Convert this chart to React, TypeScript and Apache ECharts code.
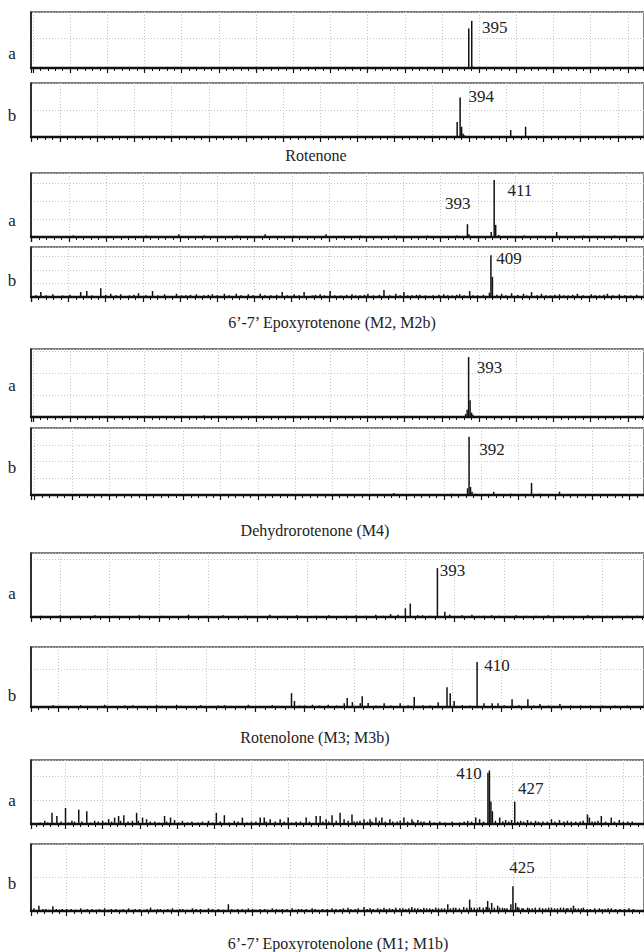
import React, { useEffect, useRef } from "react";
import * as echarts from "echarts";

type Peak = [number, number];

// ---------- DATA ----------
const compoundTitles = [
  "Rotenone",
  "6’-7’ Epoxyrotenone (M2, M2b)",
  "Dehydrorotenone (M4)",
  "Rotenolone (M3; M3b)",
  "6’-7’ Epoxyrotenolone (M1; M1b)",
];
const panelLetters = ["a", "b", "a", "b", "a", "b", "a", "b", "a", "b"];

// [m/z, relative intensity]
const rotenoneA: Peak[] = [
  [132, 1], [151, 1.5], [168, 1], [190, 1.5], [214, 1], [236, 1], [262, 1], [288, 1],
  [331, 1], [362, 1], [393, 67], [395, 80], [396, 2], [421, 1], [447, 1], [472, 1],
];
const rotenoneB: Peak[] = [
  [158, 1], [205, 1], [262, 1], [318, 1], [371, 1], [392, 28], [394, 73], [395, 19],
  [396, 6], [397, 3], [399, 2], [404, 1], [428, 13], [438, 19], [462, 1], [485, 1],
];
const epoxyA: Peak[] = [
  [128, 2], [140, 1], [151, 1.5], [163, 1], [177, 2], [188, 1], [199, 4], [207, 1.5],
  [216, 2], [227, 1], [238, 2], [247, 1], [257, 4], [266, 1.5], [276, 2], [287, 1],
  [298, 4], [309, 1.5], [321, 2], [333, 1], [344, 2], [355, 1], [366, 2], [376, 1.5],
  [386, 2], [393, 18], [394, 4], [401, 1.5], [409, 7], [411, 80], [412, 17], [414, 3],
  [422, 1.5], [431, 2], [442, 1.5], [453, 7], [462, 1.5], [471, 2], [481, 1.5], [492, 2],
  [502, 1.5],
];
const epoxyB: Peak[] = [
  [103, 3], [106.4, 9], [110, 3], [114.5, 5], [118, 2], [121, 3], [126, 4], [129, 2],
  [133.2, 9], [137.3, 11], [141, 3], [146.7, 16], [150, 4], [153.4, 6], [157, 3],
  [160.1, 5], [163, 2], [166, 3], [169, 4], [172.1, 7], [177, 3], [181.5, 11], [185, 3],
  [189.6, 5], [193, 2], [197.6, 6], [201, 3], [204, 3], [207, 4], [211, 5], [213, 2],
  [216, 3], [219, 4], [221.7, 5], [225, 3], [229.8, 6], [233, 3], [237.8, 6], [241, 3],
  [245.9, 5], [249, 3], [253.9, 6], [257, 3], [261, 3], [265, 4], [268.7, 9], [272, 3],
  [276.7, 5], [280, 3], [283.4, 9], [286, 2], [289, 3], [291, 4], [294.2, 5], [297, 3],
  [300.9, 11], [304, 3], [308, 3], [312, 4], [315.6, 5], [318, 3], [321, 3], [324, 4],
  [326.3, 6], [330, 3], [334, 4], [337.1, 13], [341, 3], [345.1, 6], [348, 3],
  [350.5, 9], [353, 3], [356, 3], [359, 4], [361.2, 4], [365, 3], [370, 3], [374, 4],
  [377.3, 5], [380, 3], [383, 3], [386, 4], [388, 5], [391, 3], [394.7, 11], [397, 3],
  [400, 3], [404, 4], [408, 8], [409, 77], [410, 37], [413, 4], [416.2, 6], [419, 3],
  [422.9, 7], [427, 4], [430.9, 6], [433, 3], [436.3, 9], [440, 3], [443, 6], [446, 3],
  [449, 3], [452, 4], [455.1, 5], [458, 3], [461, 3], [464, 4], [467.1, 6], [471, 3],
  [476.5, 5], [479, 3], [482, 3], [485, 4], [487.3, 6], [491, 3], [495.3, 5], [499, 3],
  [503, 3], [507, 4],
];
const dehydroA: Peak[] = [
  [135, 1.5], [162, 1.5], [190, 1.5], [215, 2], [248, 1.5], [272, 1.5], [300, 1.5],
  [325, 1.5], [352, 1.5], [377, 1.5], [391, 4], [392, 10], [393, 82], [394, 23],
  [395, 6], [396, 3], [412, 1.5], [440, 1.5], [468, 1.5], [495, 1.5],
];
const dehydroB: Peak[] = [
  [128, 1.5], [156, 1.5], [184, 1.5], [212, 1.5], [240, 1.5], [270, 1.5], [301, 1.5],
  [327, 1.5], [341.5, 3], [358, 1.5], [380, 2], [391, 10], [392, 87], [393, 12],
  [394, 5], [396, 2], [408.6, 5], [420, 2], [434, 18], [440, 2], [452.8, 5], [470, 1.5],
  [492, 1.5],
];
const rotenoloneA: Peak[] = [
  [232, 2], [236, 1.5], [240, 3], [243, 1.5], [247, 2], [250, 1.5], [254, 3], [258, 1.5],
  [262, 2], [266, 1.5], [272, 3], [276, 1.5], [281, 2], [286, 1.5], [292, 4], [295, 1.5],
  [299, 2], [302, 1.5], [306, 3], [310, 1.5], [315, 2], [319, 1.5], [325, 4], [328, 1.5],
  [331, 2], [336, 3], [340, 1.5], [344, 2], [349, 3], [352, 1.5], [356, 2], [360, 3],
  [364, 2], [368, 4], [371, 2], [374, 5], [377, 4], [380, 15], [382, 23], [385, 3],
  [387, 3], [390, 2], [393, 84], [396, 9], [398, 4], [400, 2], [403, 3], [407, 4],
  [410, 2], [412, 2], [415, 3], [418, 2], [421, 2], [425, 3], [429, 2], [433, 2],
  [438, 3], [442, 2], [447, 2], [450, 1.5], [454, 3], [458, 2], [462, 2], [466, 2],
  [470, 2], [474, 2],
];
const rotenoloneB: Peak[] = [
  [233, 3], [237.9, 5], [241, 3], [244, 3], [249.2, 5], [252, 3], [254, 3], [258.9, 6],
  [261, 3], [264, 3], [267, 4], [270.3, 5], [273, 3], [275, 3], [280, 5], [282, 3],
  [284, 3], [288.1, 6], [290, 3], [293, 3], [297.8, 5], [300, 3], [302, 3], [305, 4],
  [307.5, 5], [310, 3], [312, 3], [317.2, 6], [320, 3], [322, 3], [326.9, 5], [329, 3],
  [331, 3], [334.7, 37], [335.9, 16], [338, 4], [340, 4], [343.2, 6], [346, 4],
  [349.6, 6], [353, 4], [356.1, 10], [357.3, 24], [359.4, 13], [362.6, 10], [363.4, 29],
  [365.8, 11], [369, 4], [372.3, 10], [375, 4], [378.8, 10], [382, 5], [384.5, 27],
  [388, 5], [391, 4], [394.2, 13], [397.8, 53], [399.1, 37], [400.7, 16], [404, 5],
  [407, 4], [410, 120], [412.8, 10], [416.1, 10], [418.5, 10], [421, 5], [424.2, 21],
  [427, 5], [430.6, 21], [433, 4], [435.5, 8], [439, 4], [441, 3], [443.6, 8], [446, 3],
  [448, 4], [452, 4], [454, 3], [456, 4], [459, 3], [461, 4], [466, 4], [468, 3],
  [471, 4], [474, 3],
];
const epoxyrotenoloneA: Peak[] = [
  [108, 2], [111.1, 4], [113, 2], [115.9, 14], [119.2, 10], [122, 3], [125, 20],
  [127, 2], [129.3, 4], [131, 3], [133.9, 18], [136, 3], [139.3, 16], [142, 2],
  [144.6, 4], [147, 3], [150, 4], [152, 2], [154, 6], [156, 3], [158, 8], [160.7, 10],
  [162, 4], [164.2, 11], [167, 3], [170, 4], [172.8, 14], [174, 4], [176.8, 8],
  [179.5, 6], [182, 3], [185, 3], [188, 2], [191.6, 10], [193, 3], [195.6, 8],
  [198.3, 5], [201, 2], [203.6, 4], [207, 2], [210, 3], [214, 2], [217, 3], [221.1, 4],
  [224, 2], [226.4, 14], [229, 3], [231.8, 11], [235, 2], [238.5, 4], [241, 3],
  [243.9, 8], [247, 2], [250, 3], [253, 3], [255.9, 8], [258.6, 8], [260, 3],
  [262.6, 6], [266, 3], [269.3, 6], [272, 3], [274.7, 8], [277, 2], [280, 3], [283, 3],
  [286.8, 8], [289, 3], [293.5, 10], [296.2, 10], [298, 3], [300.2, 6], [302, 3],
  [304.2, 11], [307, 4], [309.6, 14], [312.3, 6], [315, 4], [317.6, 12], [319, 3],
  [321, 3], [323, 4], [325.7, 6], [328, 3], [329.7, 6], [331, 3], [333.7, 8], [336, 4],
  [337.7, 8], [340, 3], [343.1, 6], [345, 3], [348, 3], [350, 4], [352.5, 8], [355, 3],
  [357.9, 6], [359, 3], [361.9, 5], [364, 3], [366, 3], [369.9, 4], [373, 2],
  [376.6, 3], [380, 2], [385, 3], [390, 2], [393, 3], [395.4, 4], [398, 3], [400.8, 8],
  [403.4, 6], [406, 3], [409, 64], [410, 67], [411, 28], [412, 16], [414, 4],
  [416.9, 8], [419, 3], [420.9, 5], [423, 3], [424.9, 5], [427, 28], [429, 3], [431, 4],
  [433, 3], [435.6, 5], [438, 3], [441, 4], [443, 3], [446, 3], [449, 3], [451.7, 6],
  [454, 3], [457.1, 5], [460, 3], [462.4, 4], [465, 3], [468, 3], [471, 3], [473, 4],
  [475.9, 12], [477.2, 8], [479, 3], [481, 3], [483, 4], [485.2, 10], [488, 3],
  [491.9, 8], [494, 3], [497.3, 5], [500, 3], [503, 3], [506, 3],
];
const epoxyrotenoloneB: Peak[] = [
  [103, 4], [106.3, 8], [109, 3], [111, 3], [113, 2], [115.7, 7], [118, 3], [120, 2],
  [122, 3], [125, 3], [128, 3], [131, 2], [134.4, 4], [137, 2], [139, 3], [142, 3],
  [145, 2], [147, 3], [150.5, 4], [153, 2], [155, 3], [158, 3], [161, 2], [163, 3],
  [166.6, 4], [169, 2], [171, 3], [174, 3], [177, 2], [179, 3], [181.4, 5], [184, 2],
  [186, 3], [188, 3], [191, 2], [193, 3], [196.1, 4], [199, 2], [201, 3], [203, 3],
  [206, 2], [209.5, 4], [212, 3], [215, 3], [218, 2], [220.3, 4], [223, 3], [227, 3],
  [230, 2], [233.7, 10], [236, 3], [238, 2], [240, 3], [243, 3], [245, 2], [247.1, 4],
  [250, 3], [252, 2], [255, 3], [258, 3], [260, 2], [263.2, 4], [266, 3], [268, 2],
  [270, 3], [273, 3], [276.6, 4], [279, 2], [281, 3], [283, 3], [286, 3], [290, 4],
  [292, 3], [294, 2], [297, 3], [300, 3], [303.4, 4], [306, 3], [309, 3], [311, 4],
  [314.1, 5], [316, 3], [319, 3], [321, 4], [324.9, 6], [327, 3], [329, 4], [331, 3],
  [334, 4], [336, 3], [338.3, 5], [340, 3], [342, 4], [344, 3], [346.3, 5], [349, 4],
  [351, 4], [353, 3], [355, 4], [357, 6], [359, 4], [361, 4], [363, 3], [365.1, 5],
  [367, 4], [369, 4], [371, 3], [373.1, 5], [375, 4], [377, 4], [379, 4], [381.2, 10],
  [383, 4], [385, 5], [386.6, 5], [389, 4], [391.9, 6], [394, 5], [395.9, 17], [397, 5],
  [399, 5], [401, 4], [402.6, 6], [405, 5], [407, 6], [408, 15], [409, 5], [410.7, 12],
  [412.5, 5], [414.7, 8], [416, 5], [418, 5], [419.5, 4], [421, 4], [423.6, 10],
  [425, 37], [426.8, 12], [428, 6], [429, 5], [431, 4], [432, 4], [434.8, 5], [436, 4],
  [438, 4], [440, 5], [442.9, 5], [445, 4], [447, 4], [449, 5], [450.9, 5], [453, 4],
  [455, 4], [457, 5], [459, 5], [461, 4], [462, 4], [464, 5], [465.7, 8], [467, 4],
  [469, 4], [471, 4], [472.4, 5], [475, 3], [477, 3], [480, 4], [483.1, 4], [485, 3],
  [487, 3], [489, 4], [491.1, 4], [494, 3], [497, 3], [500, 3], [503, 4], [506, 3],
];
const panelSpectra: Peak[][] = [
  rotenoneA, rotenoneB, epoxyA, epoxyB, dehydroA, dehydroB,
  rotenoloneA, rotenoloneB, epoxyrotenoloneA, epoxyrotenoloneB,
];

// labelled peaks (panel index, m/z)
const labelPanels = [0, 1, 2, 2, 3, 4, 5, 6, 7, 8, 8, 9];
const labelMz = [395, 394, 411, 393, 409, 393, 392, 393, 410, 410, 427, 425];

// axis scales per panel
const xMinMz = [98.7, 105.5, 99.6, 99.8, 98.8, 97.5, 228.1, 229, 101.8, 101];
const xTickStep = [25, 25, 25, 25, 25, 25, 20, 20, 25, 25];
const yMaxVal = [95, 100, 90, 92, 93, 100, 110, 160, 80, 100];
const yTickStep = [50, 50, 25, 25, 30, 25, 100, 100, 30, 50];

// ---------- LAYOUT ----------
const PLOT_LEFT = 31;
const PLOT_WIDTH = 633;
const panelTop = [12, 83, 173, 247, 349, 428, 553, 647, 760, 844];
const panelHeight = [56, 54, 64, 50, 68, 67, 64, 60, 64, 67];
const letterY = [53, 115, 220, 280, 385, 467, 593, 695, 800, 883];
const titleX = [316, 332, 315, 315, 338];
const titleY = [155, 322, 530, 737, 943];
const labelPlace: { dx: number; dy: number; align: string }[] = [
  { dx: 11, dy: 7, align: "left" },
  { dx: 9, dy: -1, align: "left" },
  { dx: 14, dy: 10, align: "left" },
  { dx: -9, dy: -21, align: "center" },
  { dx: 6, dy: 3, align: "left" },
  { dx: 9, dy: 10, align: "left" },
  { dx: 11, dy: 13, align: "left" },
  { dx: 3, dy: 2, align: "left" },
  { dx: 8, dy: 3, align: "left" },
  { dx: -7, dy: 3, align: "right" },
  { dx: 4, dy: -13, align: "left" },
  { dx: -3, dy: -19, align: "left" },
];

const FONT = "'Liberation Serif', 'Times New Roman', 'DejaVu Serif', serif";
const TEXT = "#222";

export default function App() {
  const ref = useRef<HTMLDivElement>(null);

  useEffect(() => {
    if (!ref.current) return;
    const chart = echarts.init(ref.current, undefined, { renderer: "svg" });

    const grids = panelSpectra.map((_, i) => ({
      left: PLOT_LEFT,
      top: panelTop[i],
      width: PLOT_WIDTH,
      height: panelHeight[i],
      show: true,
      borderColor: "#555",
      borderWidth: 1.5,
      backgroundColor: "transparent",
    }));

    const xAxes = panelSpectra.map((_, i) => {
      const pxPerUnit = 38.4 / 25;
      const pxPerUnitWide = 50.9 / 20;
      const scale = xTickStep[i] === 20 ? pxPerUnitWide : pxPerUnit;
      return {
        type: "value",
        gridIndex: i,
        min: xMinMz[i],
        max: xMinMz[i] + PLOT_WIDTH / scale,
        minInterval: xTickStep[i],
        maxInterval: xTickStep[i],
        axisLabel: { show: false },
        axisLine: { show: true, onZero: false, lineStyle: { color: "#111", width: 2.4 } },
        axisTick: { show: true, inside: false, length: 5, lineStyle: { color: "#111", width: 1.2 } },
        minorTick: { show: true, splitNumber: 5, length: 3, lineStyle: { color: "#111", width: 1 } },
        splitLine: { show: true, lineStyle: { color: "#c4c4c4", width: 1, type: [1, 2] } },
      };
    });

    const yAxes = panelSpectra.map((_, i) => ({
      type: "value",
      gridIndex: i,
      min: 0,
      max: yMaxVal[i],
      interval: yTickStep[i],
      axisLabel: { show: false },
      axisTick: { show: false },
      axisLine: { show: true, lineStyle: { color: "#111", width: 1.5 } },
      splitLine: { show: true, lineStyle: { color: "#c4c4c4", width: 1, type: [1, 2] } },
    }));

    const series = panelSpectra.map((pts, i) => ({
      type: "bar",
      xAxisIndex: i,
      yAxisIndex: i,
      barWidth: 1.5,
      barGap: "-100%",
      silent: true,
      itemStyle: { color: "#111" },
      data: pts.map(([mz, v]) => {
        const k = labelPanels.findIndex((p, j) => p === i && labelMz[j] === mz);
        if (k < 0) return [mz, v];
        const pl = labelPlace[k];
        return {
          value: [mz, v],
          label: {
            show: true,
            formatter: String(labelMz[k]),
            position: [pl.dx, pl.dy],
            align: pl.align,
            verticalAlign: "middle",
            fontFamily: FONT,
            fontSize: 17,
            color: TEXT,
          },
        };
      }),
    }));

    const graphic: any[] = [
      ...compoundTitles.map((t, i) => ({
        type: "text",
        x: titleX[i],
        y: titleY[i],
        style: { text: t, fontFamily: FONT, fontSize: 16, fill: TEXT, align: "center", verticalAlign: "middle" },
      })),
      ...panelLetters.map((l, i) => ({
        type: "text",
        x: 12,
        y: letterY[i],
        style: { text: l, fontFamily: FONT, fontSize: 17, fill: TEXT, align: "center", verticalAlign: "middle" },
      })),
    ];

    chart.setOption({
      animation: false,
      backgroundColor: "#fff",
      grid: grids,
      xAxis: xAxes,
      yAxis: yAxes,
      series,
      graphic,
    } as any);

    return () => chart.dispose();
  }, []);

  return (
    <div
      ref={ref}
      style={{ position: "absolute", left: 0, top: 0, width: 644, height: 952, background: "#fff" }}
    />
  );
}
